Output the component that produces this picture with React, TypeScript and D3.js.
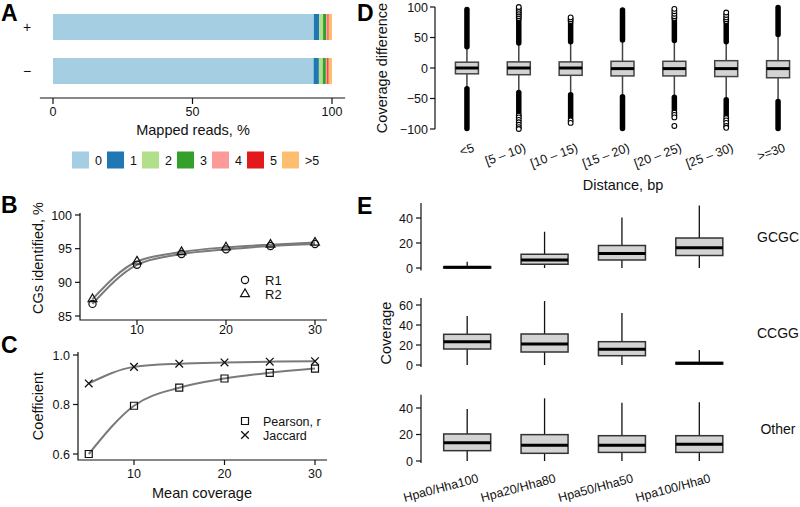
import React from "react";
import * as d3 from "d3";

const F = "'Liberation Sans', Arial, Helvetica, sans-serif";

// ---- Panel A data
const aStrands = ["+", "\u2212"];
const aClasses = ["0", "1", "2", "3", "4", "5", ">5"];
const aPlus = [93.5, 1.9, 1.4, 1.1, 0.5, 0.4, 1.2];
const aMinus = [93.4, 1.9, 1.4, 1.1, 0.5, 0.5, 1.2];
const aTicks = [0, 50, 100];
const aColors = ["#a6cee3", "#1f78b4", "#b2df8a", "#33a02c", "#fb9a99", "#e31a1c", "#fdbf6f"];

// ---- Panel B data
const bCoverage = [5, 10, 15, 20, 25, 30];
const bR1 = [86.8, 92.6, 94.2, 94.9, 95.4, 95.7];
const bR2 = [87.5, 93.1, 94.5, 95.2, 95.6, 95.9];
const bYTicks = [85, 90, 95, 100];
const bXTicks = [10, 20, 30];

// ---- Panel C data
const cCoverage = [5, 10, 15, 20, 25, 30];
const cPearson = [0.6, 0.795, 0.868, 0.905, 0.928, 0.945];
const cJaccard = [0.885, 0.952, 0.965, 0.97, 0.973, 0.975];
const cYTicks = [0.6, 0.8, 1.0];
const cXTicks = [10, 20, 30];

// ---- Panel D data
const dCats = ["<5", "[5 \u2013 10)", "[10 \u2013 15)", "[15 \u2013 20)", "[20 \u2013 25)", "[25 \u2013 30)", ">=30"];
const dQ1 = [-9.5, -11, -12, -13, -13, -14, -16];
const dMed = [0, 0, 0, -1, -1, -1, -1];
const dQ3 = [9.5, 10, 10, 11, 11, 12, 12];
const dWhiskHi = [35, 41, 43, 46, 45, 43, 55];
const dWhiskLo = [-34, -40, -44, -47, -48, -52, -55];
const dDenseHi = [96, 79, 74, 95, 79, 74, 99];
const dDenseLo = [-99, -75, -82, -99, -69, -78, -99];
const dSparseHi = [[], [82, 85, 88, 91, 94, 97, 100], [77, 80, 83], [], [82, 85, 89, 93, 97], [77, 80, 83, 87, 91], []];
const dSparseLo = [[], [-78, -81, -85, -89, -93, -97, -100], [-86, -90], [], [-73, -77, -81, -95], [-82, -86, -90, -95, -98], []];
const dYTicks = [-100, -50, 0, 50, 100];

// ---- Panel E data
const eCats = ["Hpa0/Hha100", "Hpa20/Hha80", "Hpa50/Hha50", "Hpa100/Hha0"];
const eGroups = ["GCGC", "CCGG", "Other"];
const eQ1 = [[0, 3, 6.4, 10], [16, 13, 9.3, 1], [7.8, 5.8, 6.5, 6.5]];
const eMed = [[0.6, 6.5, 11.7, 16.3], [23.3, 21, 15.7, 1.8], [13.8, 11.8, 11.8, 12.6]];
const eQ3 = [[1, 11, 18, 24], [30.7, 31, 23.3, 2.5], [20.4, 19.9, 19.1, 19.1]];
const eMax = [[5, 29, 40.5, 50], [49, 64, 52, 15], [39.2, 47.3, 44, 44.3]];
const eMin = [[0, 0, 0, 0], [0, 0, 0, 0], [0, 0, 0, 0]];
const eTicks = [[0, 20, 40], [0, 20, 40, 60], [0, 20, 40]];
const eDomains = [[-2, 52], [-2, 67], [-1.5, 50]];

const fmtMinus = (v: number) => (v < 0 ? "\u2212" + Math.abs(v) : String(v));

export default function App() {
  // Scales A
  const xA = d3.scaleLinear().domain([0, 100]).range([53, 332]);
  const yA = d3.scalePoint().domain(aStrands).range([27, 71]);
  const barH = 26;
  const stacks = [aPlus, aMinus].map((vals) => {
    const cum = Array.from(d3.cumsum(vals));
    return vals.map((v, i) => ({ x0: cum[i] - v, x1: cum[i], c: aColors[i] }));
  });

  // Scales B
  const xB = d3.scaleLinear().domain([10, 30]).range([137, 315]);
  const yB = d3.scaleLinear().domain([85, 100]).range([316, 215]);
  const lineB = d3.line<[number, number]>().x((d) => xB(d[0])).y((d) => yB(d[1])).curve(d3.curveMonotoneX);

  // Scales C
  const xC = d3.scaleLinear().domain([10, 30]).range([134, 315]);
  const yC = d3.scaleLinear().domain([0.6, 1.0]).range([454, 355]);
  const lineC = d3.line<[number, number]>().x((d) => xC(d[0])).y((d) => yC(d[1])).curve(d3.curveMonotoneX);

  // Scales D
  const yD = d3.scaleLinear().domain([-100, 100]).range([129, 7]);
  const xD = d3.scaleBand().domain(dCats).range([441, 804]);
  const dBoxW = 23;

  // Scales E
  const xE = d3.scaleBand().domain(eCats).range([428.5, 738]);
  const eBoxW = 47;
  const eRanges = [[268, 218], [365, 305], [461, 408]];
  const eRefs = [[0, 40], [0, 60], [0, 40]];
  const yEs = eRanges.map((r, g) => d3.scaleLinear().domain(eRefs[g]).range(r));

  const tri = d3.symbol(d3.symbolTriangle, 34)() as string;
  const sq = d3.symbol(d3.symbolSquare, 49)() as string;
  const cross = "M-3.8,-3.8L3.8,3.8M-3.8,3.8L3.8,-3.8";

  const txt = { fontFamily: F, fill: "#111" } as const;

  return (
    <svg width={800} height={507} style={{ position: "absolute", left: 0, top: 0, background: "#fff" }}>
      {/* Panel letters */}
      {[
        ["A", 1, 21],
        ["B", 1, 213],
        ["C", 1, 353],
        ["D", 357, 21],
        ["E", 357, 214],
      ].map(([l, x, y]) => (
        <text key={l as string} x={x as number} y={y as number} fontFamily={F} fontWeight="bold" fontSize={23}>
          {l}
        </text>
      ))}

      {/* ===== Panel A ===== */}
      {stacks.map((segs, si) => (
        <g key={si}>
          {segs.map((s, i) => (
            <rect
              key={i}
              x={xA(s.x0)}
              y={(yA(aStrands[si]) as number) - barH / 2}
              width={xA(s.x1) - xA(s.x0)}
              height={barH}
              fill={s.c}
            />
          ))}
          <text x={27} y={(yA(aStrands[si]) as number) + 5} textAnchor="middle" fontSize={14} {...txt}>
            {aStrands[si]}
          </text>
        </g>
      ))}
      <line x1={xA(-4.7)} x2={xA(104.7)} y1={98} y2={98} stroke="#111" strokeWidth={1.2} />
      {aTicks.map((t) => (
        <g key={t}>
          <line x1={xA(t)} x2={xA(t)} y1={98} y2={104} stroke="#111" strokeWidth={1.2} />
          <text x={xA(t)} y={116} textAnchor="middle" fontSize={12.5} {...txt}>
            {t}
          </text>
        </g>
      ))}
      <text x={193} y={135} textAnchor="middle" fontSize={14.5} {...txt}>
        Mapped reads, %
      </text>
      {aClasses.map((c, i) => (
        <g key={c}>
          <rect x={72 + i * 35} y={151.5} width={17} height={17} fill={aColors[i]} />
          <text x={72 + i * 35 + 23} y={164.5} fontSize={12.5} {...txt}>
            {c}
          </text>
        </g>
      ))}

      {/* ===== Panel B ===== */}
      <path d={`M80,213V320H327`} fill="none" stroke="#111" strokeWidth={1.2} />
      {bYTicks.map((t) => (
        <g key={t}>
          <line x1={75} x2={80} y1={yB(t)} y2={yB(t)} stroke="#111" strokeWidth={1.2} />
          <text x={72} y={yB(t) + 4.5} textAnchor="end" fontSize={12.5} {...txt}>
            {t}
          </text>
        </g>
      ))}
      {bXTicks.map((t) => (
        <g key={t}>
          <line x1={xB(t)} x2={xB(t)} y1={320} y2={325} stroke="#111" strokeWidth={1.2} />
          <text x={xB(t)} y={334} textAnchor="middle" fontSize={12.5} {...txt}>
            {t}
          </text>
        </g>
      ))}
      <text transform="translate(43,258) rotate(-90)" textAnchor="middle" fontSize={14.5} {...txt}>
        CGs identified, %
      </text>
      {[bR1, bR2].map((s, k) => (
        <path
          key={k}
          d={lineB(bCoverage.map((c, i) => [c, s[i]] as [number, number])) as string}
          fill="none"
          stroke="#7a7a7a"
          strokeWidth={2}
        />
      ))}
      {bCoverage.map((c, i) => (
        <g key={c}>
          <circle cx={xB(c)} cy={yB(bR1[i])} r={3.6} fill="none" stroke="#111" strokeWidth={1.2} />
          <path d={tri} transform={`translate(${xB(c)},${yB(bR2[i])})`} fill="none" stroke="#111" strokeWidth={1.2} />
        </g>
      ))}
      <circle cx={245} cy={280} r={3.6} fill="none" stroke="#111" strokeWidth={1.2} />
      <text x={265} y={284.5} fontSize={13} {...txt}>R1</text>
      <path d={tri} transform="translate(245,294)" fill="none" stroke="#111" strokeWidth={1.2} />
      <text x={265} y={298.5} fontSize={13} {...txt}>R2</text>

      {/* ===== Panel C ===== */}
      <path d={`M78,352V460H327`} fill="none" stroke="#111" strokeWidth={1.2} />
      {cYTicks.map((t) => (
        <g key={t}>
          <line x1={73} x2={78} y1={yC(t)} y2={yC(t)} stroke="#111" strokeWidth={1.2} />
          <text x={70} y={yC(t) + 4.5} textAnchor="end" fontSize={12.5} {...txt}>
            {t.toFixed(1)}
          </text>
        </g>
      ))}
      {cXTicks.map((t) => (
        <g key={t}>
          <line x1={xC(t)} x2={xC(t)} y1={460} y2={465} stroke="#111" strokeWidth={1.2} />
          <text x={xC(t)} y={478} textAnchor="middle" fontSize={12.5} {...txt}>
            {t}
          </text>
        </g>
      ))}
      <text x={202} y={498} textAnchor="middle" fontSize={14.5} {...txt}>
        Mean coverage
      </text>
      <text transform="translate(43,406) rotate(-90)" textAnchor="middle" fontSize={14.5} {...txt}>
        Coefficient
      </text>
      {[cPearson, cJaccard].map((s, k) => (
        <path
          key={k}
          d={lineC(cCoverage.map((c, i) => [c, s[i]] as [number, number])) as string}
          fill="none"
          stroke="#7a7a7a"
          strokeWidth={2}
        />
      ))}
      {cCoverage.map((c, i) => (
        <g key={c}>
          <path d={sq} transform={`translate(${xC(c)},${yC(cPearson[i])})`} fill="none" stroke="#111" strokeWidth={1.2} />
          <path d={cross} transform={`translate(${xC(c)},${yC(cJaccard[i])})`} fill="none" stroke="#111" strokeWidth={1.3} />
        </g>
      ))}
      <path d={sq} transform="translate(245,421)" fill="none" stroke="#111" strokeWidth={1.2} />
      <text x={263} y={425.5} fontSize={12.5} {...txt}>Pearson, r</text>
      <path d={cross} transform="translate(245,435)" fill="none" stroke="#111" strokeWidth={1.3} />
      <text x={263} y={439.5} fontSize={12.5} {...txt}>Jaccard</text>

      {/* ===== Panel D ===== */}
      <line x1={435} x2={435} y1={yD(-100)} y2={yD(100)} stroke="#111" strokeWidth={1.2} />
      {dYTicks.map((t) => (
        <g key={t}>
          <line x1={430} x2={435} y1={yD(t)} y2={yD(t)} stroke="#111" strokeWidth={1.2} />
          <text x={428} y={yD(t) + 4.5} textAnchor="end" fontSize={12.5} {...txt}>
            {fmtMinus(t)}
          </text>
        </g>
      ))}
      <text transform="translate(387,68) rotate(-90)" textAnchor="middle" fontSize={14.5} {...txt}>
        Coverage difference
      </text>
      <text x={623} y={190} textAnchor="middle" fontSize={14.5} {...txt}>
        Distance, bp
      </text>
      {dCats.map((c, i) => {
        const cx = (xD(c) as number) + xD.bandwidth() / 2;
        return (
          <g key={c}>
            <line x1={cx} x2={cx} y1={yD(dWhiskLo[i])} y2={yD(dWhiskHi[i])} stroke="#444" strokeWidth={1.5} />
            <line x1={cx} x2={cx} y1={yD(dWhiskHi[i])} y2={yD(dDenseHi[i])} stroke="#000" strokeWidth={5.5} strokeLinecap="round" />
            <line x1={cx} x2={cx} y1={yD(dWhiskLo[i])} y2={yD(dDenseLo[i])} stroke="#000" strokeWidth={5.5} strokeLinecap="round" />
            {dSparseHi[i].concat(dSparseLo[i]).map((v, k) => (
              <circle key={k} cx={cx} cy={yD(v)} r={2.4} fill="#fff" stroke="#000" strokeWidth={1.1} />
            ))}
            <rect
              x={cx - dBoxW / 2}
              y={yD(dQ3[i])}
              width={dBoxW}
              height={yD(dQ1[i]) - yD(dQ3[i])}
              fill="#d3d3d3"
              stroke="#444"
              strokeWidth={1.5}
            />
            <line x1={cx - dBoxW / 2} x2={cx + dBoxW / 2} y1={yD(dMed[i])} y2={yD(dMed[i])} stroke="#000" strokeWidth={3} />
            <text transform={`translate(${cx + 8},151) rotate(-20)`} textAnchor="end" fontSize={12.5} {...txt}>
              {c}
            </text>
          </g>
        );
      })}

      {/* ===== Panel E ===== */}
      {eGroups.map((g, gi) => {
        const y = yEs[gi];
        return (
          <g key={g}>
            <line x1={421} x2={421} y1={y(eDomains[gi][0])} y2={y(eDomains[gi][1])} stroke="#111" strokeWidth={1.2} />
            {eTicks[gi].map((t) => (
              <g key={t}>
                <line x1={416} x2={421} y1={y(t)} y2={y(t)} stroke="#111" strokeWidth={1.2} />
                <text x={413} y={y(t) + 4.5} textAnchor="end" fontSize={12.5} {...txt}>
                  {t}
                </text>
              </g>
            ))}
            {eCats.map((c, i) => {
              const cx = (xE(c) as number) + xE.bandwidth() / 2;
              return (
                <g key={c}>
                  <line x1={cx} x2={cx} y1={y(eMin[gi][i])} y2={y(eMax[gi][i])} stroke="#111" strokeWidth={1.3} />
                  <rect
                    x={cx - eBoxW / 2}
                    y={y(eQ3[gi][i])}
                    width={eBoxW}
                    height={y(eQ1[gi][i]) - y(eQ3[gi][i])}
                    fill="#d3d3d3"
                    stroke="#333"
                    strokeWidth={1.5}
                  />
                  <line x1={cx - eBoxW / 2} x2={cx + eBoxW / 2} y1={y(eMed[gi][i])} y2={y(eMed[gi][i])} stroke="#000" strokeWidth={3} />
                </g>
              );
            })}
            <text x={778} y={(y(eDomains[gi][0]) + y(eDomains[gi][1])) / 2 + 5} textAnchor="middle" fontSize={14} {...txt}>
              {g}
            </text>
          </g>
        );
      })}
      <text transform="translate(391,333) rotate(-90)" textAnchor="middle" fontSize={14.5} {...txt}>
        Coverage
      </text>
      {eCats.map((c) => {
        const cx = (xE(c) as number) + xE.bandwidth() / 2;
        return (
          <text key={c} transform={`translate(${cx + 12},482) rotate(-15)`} textAnchor="end" fontSize={12.5} {...txt}>
            {c}
          </text>
        );
      })}
    </svg>
  );
}
